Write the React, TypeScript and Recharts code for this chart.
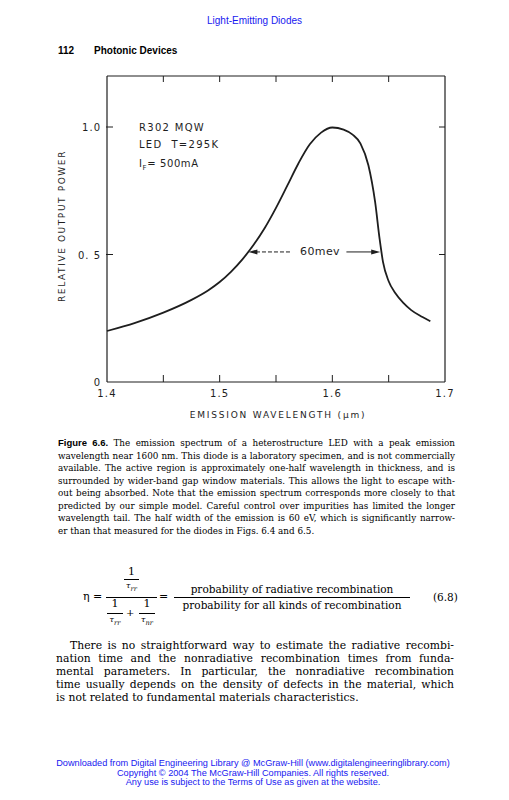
import React from "react";
import { LineChart, Line, XAxis, YAxis, ReferenceLine } from "recharts";

// emission spectrum
const WAVELENGTH = [
  1.4, 1.425, 1.45, 1.475, 1.49, 1.5, 1.51, 1.52, 1.53, 1.54, 1.55, 1.56, 1.57,
  1.58, 1.59, 1.6, 1.61, 1.618, 1.625, 1.632, 1.638, 1.642, 1.645, 1.65, 1.656,
  1.663, 1.67, 1.68, 1.687,
];
const POWER = [
  0.2, 0.232, 0.272, 0.322, 0.36, 0.392, 0.432, 0.48, 0.537, 0.604, 0.683, 0.77,
  0.858, 0.932, 0.978, 0.998, 0.99, 0.97, 0.935, 0.85, 0.705, 0.56, 0.47, 0.395,
  0.348, 0.31, 0.282, 0.255, 0.238,
];

const X_TICKS = [1.4, 1.45, 1.5, 1.55, 1.6, 1.65, 1.7];
const X_LABELS = [1.4, 1.5, 1.6, 1.7];
const Y_TICKS = [0, 0.5, 1.0];
const Y_LABELS = ["0", "0. 5", "1.0"];
const TOP_TICKS = [1.45, 1.5, 1.55, 1.6, 1.65];
const RIGHT_TICKS = [0.5, 1.0];

// 60 meV half width arrows
const HALF_LEVEL = 0.51;
const LEFT_ARROW = [1.5624, 1.5255];
const RIGHT_ARROW = [1.6125, 1.6425];

const CAPTION = [
  "The emission spectrum of a heterostructure LED with a peak emission",
  "wavelength near 1600 nm. This diode is a laboratory specimen, and is not commercially",
  "available. The active region is approximately one-half wavelength in thickness, and is",
  "surrounded by wider-band gap window materials. This allows the light to escape with-",
  "out being absorbed. Note that the emission spectrum corresponds more closely to that",
  "predicted by our simple model. Careful control over impurities has limited the longer",
  "wavelength tail. The half width of the emission is 60 eV, which is significantly narrow-",
  "er than that measured for the diodes in Figs. 6.4 and 6.5.",
];

const PARAGRAPH = [
  "There is no straightforward way to estimate the radiative recombi-",
  "nation time and the nonradiative recombination times from funda-",
  "mental parameters. In particular, the nonradiative recombination",
  "time usually depends on the density of defects in the material, which",
  "is not related to fundamental materials characteristics.",
];

const FOOTER = [
  "Downloaded from Digital Engineering Library @ McGraw-Hill (www.digitalengineeringlibrary.com)",
  "Copyright © 2004 The McGraw-Hill Companies. All rights reserved.",
  "Any use is subject to the Terms of Use as given at the website.",
];

const INK = "#1e1e1e";
const LETTER = "'DejaVu Sans', sans-serif";
const SERIF = "'DejaVu Serif', serif";
const SANS = "'Liberation Sans', Arial, sans-serif";
const BLUE = "#1818f0";

const near = (a: number, b: number) => Math.abs(a - b) < 1e-6;

const XTick = (props: any) => {
  const { x, y, payload } = props;
  const v = payload.value;
  const inner = v > 1.41 && v < 1.69;
  const label = X_LABELS.some((l) => near(l, v));
  return (
    <g>
      {inner && <line x1={x} x2={x} y1={y} y2={y - 7} stroke={INK} strokeWidth={1} />}
      {label && (
        <text x={x} y={y + 15} textAnchor="middle" fontSize={10} letterSpacing={1.2}
          fontFamily={LETTER} fill={INK}>
          {v.toFixed(1)}
        </text>
      )}
    </g>
  );
};

const YTick = (props: any) => {
  const { x, y, payload, index } = props;
  const v = payload.value;
  return (
    <g>
      {v > 0 && <line x1={x - 1} x2={x + 6} y1={y} y2={y} stroke={INK} strokeWidth={1} />}
      <text x={x - 6} y={y + 4} textAnchor="end" fontSize={10} letterSpacing={1}
        fontFamily={LETTER} fill={INK}>
        {Y_LABELS[index]}
      </text>
    </g>
  );
};

const TopTick = (p: any) => {
  const top = Math.min(p.y1, p.y2);
  return <line x1={p.x1} x2={p.x1} y1={top} y2={top + 6} stroke={INK} strokeWidth={1} />;
};

const RightTick = (p: any) => {
  const right = Math.max(p.x1, p.x2);
  return <line x1={right - 6} x2={right} y1={p.y1} y2={p.y1} stroke={INK} strokeWidth={1} />;
};

const arrowShape = (dashed: boolean) => (p: any) => {
  const { x1, y1, x2, y2 } = p;
  const dir = Math.sign(x2 - x1) || 1;
  return (
    <g>
      <line x1={x1} y1={y1} x2={x2 - dir * 6} y2={y2} stroke={INK} strokeWidth={1}
        strokeDasharray={dashed ? "4 2" : undefined} />
      <polygon points={`${x2},${y2} ${x2 - dir * 9},${y2 - 2.5} ${x2 - dir * 9},${y2 + 2.5}`}
        fill={INK} />
    </g>
  );
};

function SpectrumChart() {
  const data = WAVELENGTH.map((w, i) => ({ w, p: POWER[i] }));
  return (
    <LineChart width={509} height={430} data={data}
      margin={{ top: 76, right: 64, bottom: 18, left: 67 }}>
      <XAxis type="number" dataKey="w" domain={[1.4, 1.7]} ticks={X_TICKS} interval={0}
        height={30} tickSize={0} tickMargin={0} tickLine={false}
        axisLine={{ stroke: INK, strokeWidth: 1.2 }} tick={<XTick />} />
      <YAxis type="number" domain={[0, 1.2]} ticks={Y_TICKS} interval={0}
        width={40} tickSize={0} tickMargin={0} tickLine={false}
        axisLine={{ stroke: INK, strokeWidth: 1.2 }} tick={<YTick />} />
      <ReferenceLine y={1.2} stroke={INK} strokeWidth={1.2} />
      <ReferenceLine x={1.7} stroke={INK} strokeWidth={1.2} />
      {TOP_TICKS.map((t) => (
        <ReferenceLine key={"t" + t} x={t} shape={TopTick} />
      ))}
      {RIGHT_TICKS.map((t) => (
        <ReferenceLine key={"r" + t} y={t} shape={RightTick} />
      ))}
      <ReferenceLine segment={[{ x: LEFT_ARROW[0], y: HALF_LEVEL }, { x: LEFT_ARROW[1], y: HALF_LEVEL }]}
        shape={arrowShape(true)} />
      <ReferenceLine segment={[{ x: RIGHT_ARROW[0], y: HALF_LEVEL }, { x: RIGHT_ARROW[1], y: HALF_LEVEL }]}
        shape={arrowShape(false)} />
      <Line type="monotone" dataKey="p" stroke={INK} strokeWidth={1.8} dot={false}
        isAnimationActive={false} />
    </LineChart>
  );
}

const abs = (left: number, top: number, extra: React.CSSProperties = {}): React.CSSProperties => ({
  position: "absolute",
  left,
  top,
  whiteSpace: "nowrap",
  ...extra,
});

const frac: React.CSSProperties = { borderTop: "1px solid #000" };

export default function App() {
  return (
    <div style={{ position: "absolute", left: 0, top: 0, width: 509, height: 800, background: "#fff", overflow: "hidden", color: "#000" }}>
      <div style={abs(0, 15, { width: 509, textAlign: "center", fontFamily: SANS, fontSize: 10, color: BLUE })}>
        Light-Emitting Diodes
      </div>
      <div style={abs(58, 45, { fontFamily: SANS, fontSize: 10, fontWeight: "bold" })}>112</div>
      <div style={abs(94, 45, { fontFamily: SANS, fontSize: 10, fontWeight: "bold" })}>Photonic Devices</div>

      <div style={abs(0, 0)}>
        <SpectrumChart />
      </div>

      {/* labels inside the plot */}
      <div style={abs(139, 122, { fontFamily: LETTER, fontSize: 10, letterSpacing: 1.3, color: INK })}>R302 MQW</div>
      <div style={abs(139, 139, { fontFamily: LETTER, fontSize: 10, letterSpacing: 1.3, color: INK })}>LED&nbsp;&nbsp;T=295K</div>
      <div style={abs(139, 158, { fontFamily: LETTER, fontSize: 10, letterSpacing: 0.6, color: INK })}>
        I<sub style={{ fontSize: 7 }}>F</sub>= 500mA
      </div>
      <div style={abs(300, 245, { fontFamily: LETTER, fontSize: 11, letterSpacing: 0.4, color: INK })}>60mev</div>

      <div style={abs(62, 226, { transform: "translate(-50%, -50%) rotate(-90deg)", fontFamily: LETTER, fontSize: 9, letterSpacing: 1.6, color: INK })}>
        RELATIVE OUTPUT POWER
      </div>
      <div style={abs(0, 410, { width: 556, textAlign: "center", fontFamily: LETTER, fontSize: 9, letterSpacing: 1.8, color: INK })}>
        EMISSION WAVELENGTH (μm)
      </div>

      {/* caption */}
      <div style={abs(58, 437, { width: 397, fontFamily: SERIF, fontSize: 8.8, lineHeight: "12.5px" })}>
        {CAPTION.map((line, i) => (
          <div key={i} style={{ textAlign: "justify", textAlignLast: i < CAPTION.length - 1 ? "justify" : "left", whiteSpace: "nowrap" }}>
            {i === 0 && <b style={{ fontFamily: SANS, fontSize: 9.5 }}>Figure 6.6. </b>}
            {line}
          </div>
        ))}
      </div>

      {/* equation 6.8 */}
      <div style={abs(83, 590, { fontFamily: SERIF, fontSize: 11 })}>η =</div>
      <div style={abs(106, 566, { width: 51, fontFamily: SERIF, fontSize: 11, textAlign: "center", lineHeight: "12px" })}>
        <div>1</div>
        <div style={{ ...frac, width: 15, margin: "1px auto 0", fontSize: 8, fontStyle: "italic" }}>τ<sub>rr</sub></div>
      </div>
      <div style={abs(106, 597, { width: 51, ...frac })} />
      <div style={abs(107, 598, { width: 16, fontFamily: SERIF, fontSize: 11, textAlign: "center", lineHeight: "12px" })}>
        <div>1</div>
        <div style={{ ...frac, marginTop: 3, fontSize: 8, fontStyle: "italic" }}>τ<sub>rr</sub></div>
      </div>
      <div style={abs(126, 607, { fontFamily: SERIF, fontSize: 10 })}>+</div>
      <div style={abs(139, 598, { width: 16, fontFamily: SERIF, fontSize: 11, textAlign: "center", lineHeight: "12px" })}>
        <div>1</div>
        <div style={{ ...frac, marginTop: 3, fontSize: 8, fontStyle: "italic" }}>τ<sub>nr</sub></div>
      </div>
      <div style={abs(159, 590, { fontFamily: SERIF, fontSize: 11 })}>=</div>
      <div style={abs(174, 582, { width: 236, fontFamily: SERIF, fontSize: 10.5, textAlign: "center", lineHeight: "15px" })}>
        <div>probability of radiative recombination</div>
        <div style={frac}>probability for all kinds of recombination</div>
      </div>
      <div style={abs(433, 591, { fontFamily: SERIF, fontSize: 10.5 })}>(6.8)</div>

      {/* body text */}
      <div style={abs(56, 639, { width: 398, fontFamily: SERIF, fontSize: 10.8, lineHeight: "13px" })}>
        {PARAGRAPH.map((line, i) => (
          <div key={i} style={{ textAlign: "justify", textAlignLast: i < PARAGRAPH.length - 1 ? "justify" : "left", whiteSpace: "nowrap", paddingLeft: i === 0 ? 14 : 0 }}>
            {line}
          </div>
        ))}
      </div>

      <div style={abs(0, 759, { width: 506, textAlign: "center", fontFamily: SANS, fontSize: 9.2, lineHeight: "9.6px", color: BLUE })}>
        {FOOTER.map((line, i) => (
          <div key={i}>{line}</div>
        ))}
      </div>
    </div>
  );
}
